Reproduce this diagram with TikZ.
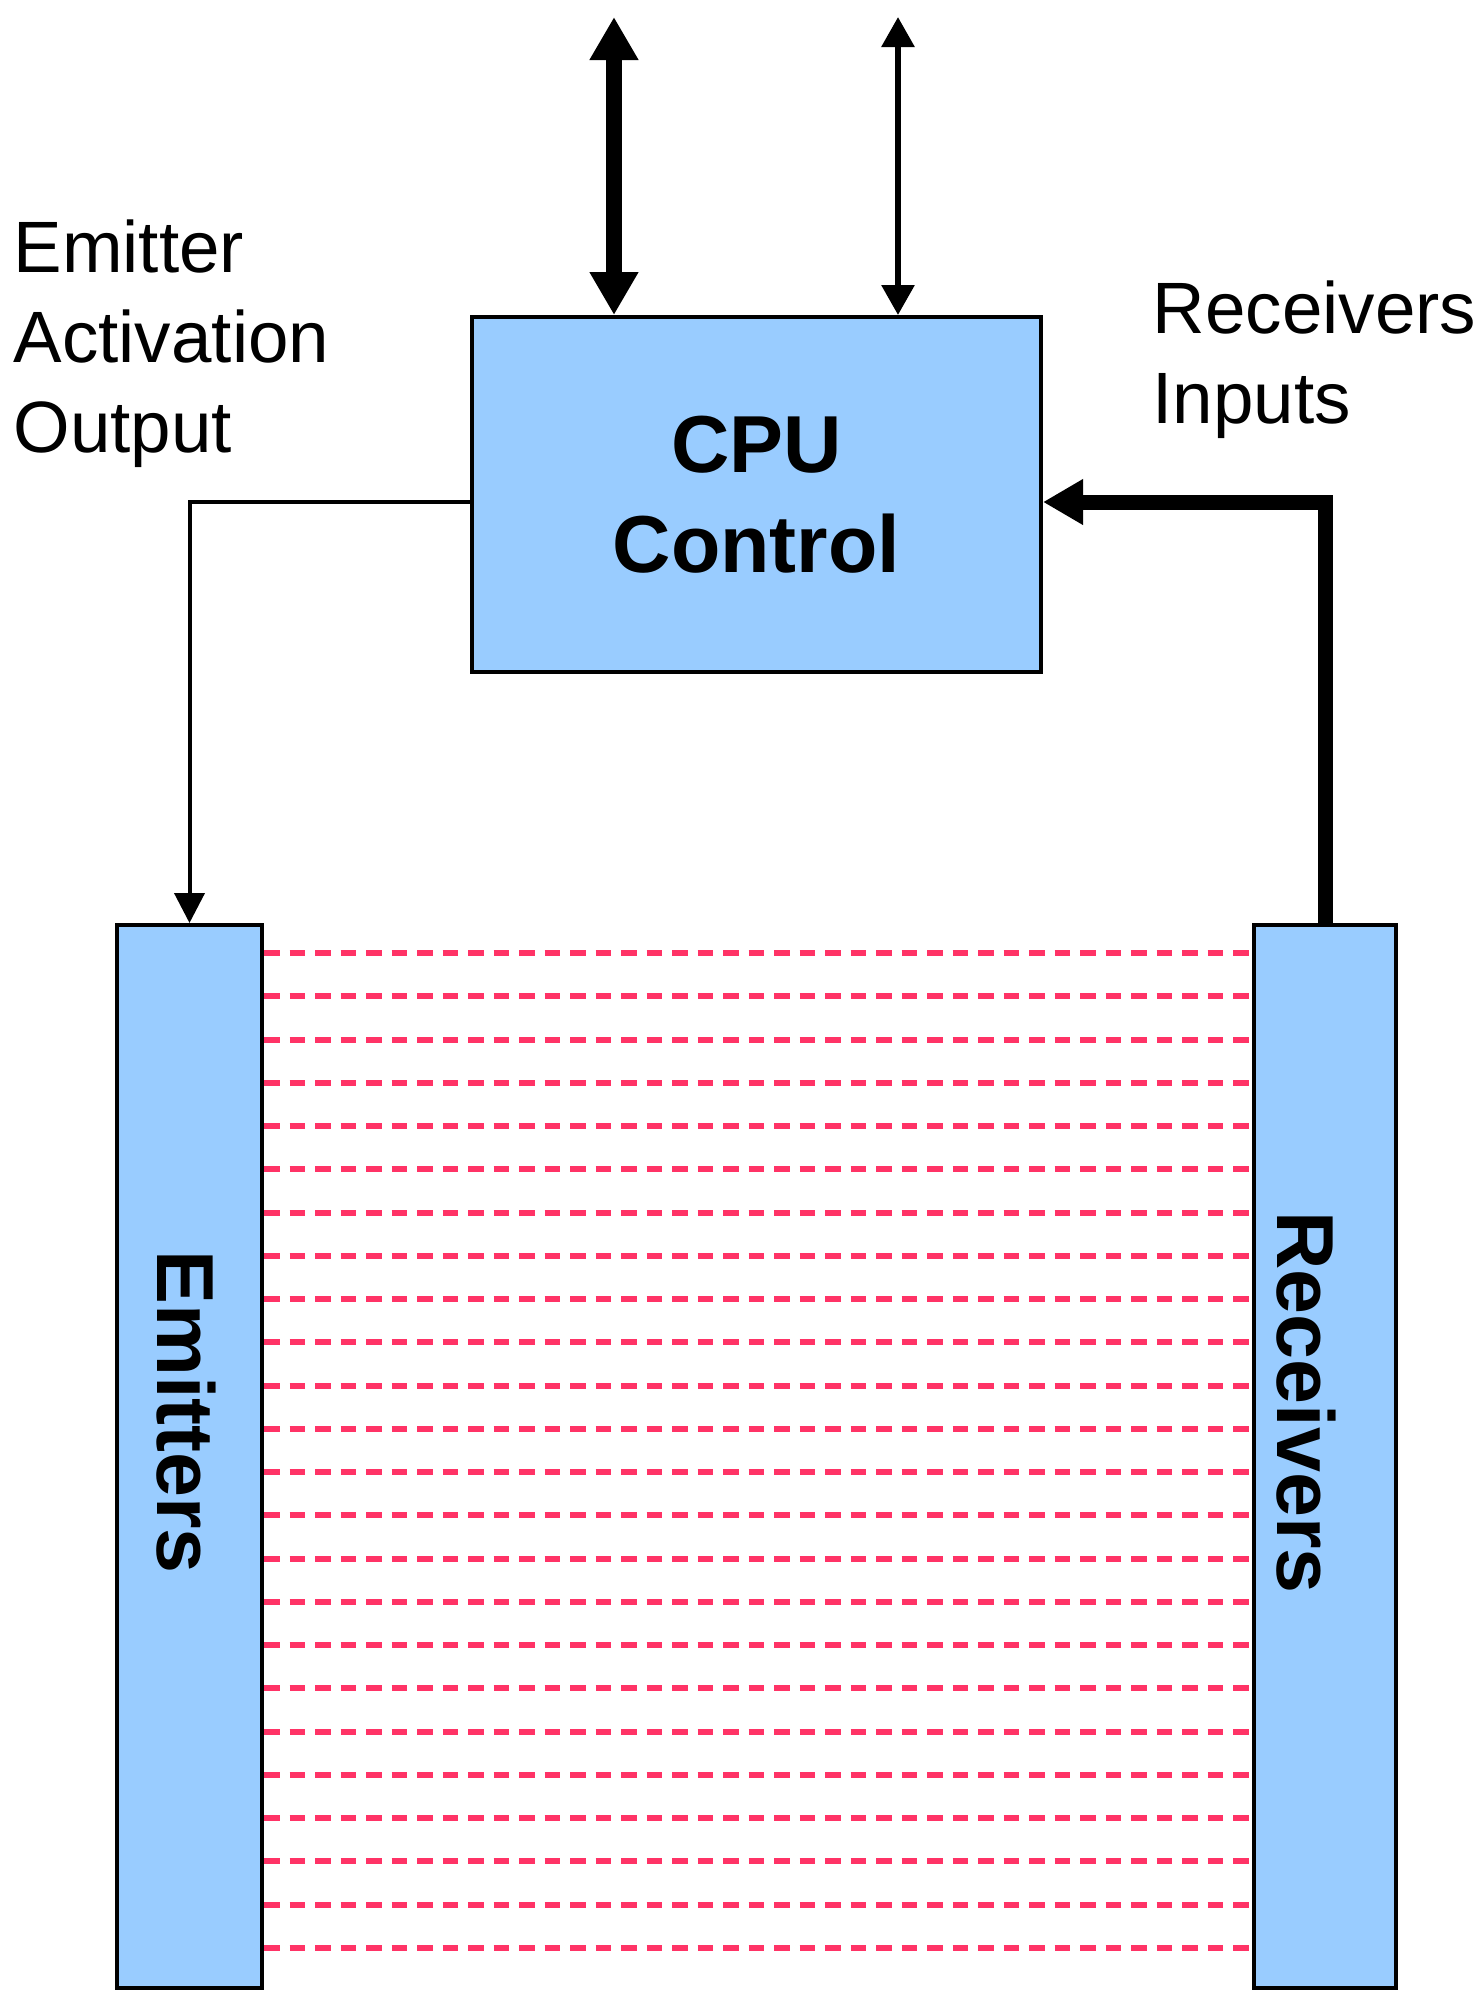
\documentclass[tikz,border=0pt]{standalone}
\usepackage{fontspec}
\setmainfont{Liberation Sans}
\usetikzlibrary{arrows.meta}
\definecolor{panelblue}{RGB}{153,204,255}
\definecolor{beamred}{RGB}{255,51,102}
\begin{document}
\begin{tikzpicture}[
box/.style={draw=black, line width=0.04cm, fill=panelblue, inner sep=0pt, align=center, font=\fontsize{23}{28.5}\selectfont\bfseries},
lbl/.style={inner sep=0pt, align=left, anchor=base west, font=\fontsize{20.7}{25.6}\selectfont},
sidelbl/.style={rotate=-90, font=\fontsize{23}{28.5}\selectfont\bfseries},
bus/.style={{Triangle[width=0.46cm,length=0.43cm]}-{Triangle[width=0.46cm,length=0.43cm]}, line width=0.16cm},
ctl/.style={{Triangle[width=0.32cm,length=0.3cm]}-{Triangle[width=0.32cm,length=0.3cm]}, line width=0.06cm},
actarr/.style={-{Triangle[width=0.3cm,length=0.3cm]}, line width=0.04cm},
inarr/.style={-{Triangle[width=0.43cm,length=0.4cm]}, line width=0.15cm},
ray/.style={draw=beamred, line width=0.06cm, dash pattern=on 0.155cm off 0.1cm}]
\useasboundingbox (0,0) rectangle (14.84,-19.91);
\node[box, minimum width=5.69cm, minimum height=3.55cm] (cpu) at (7.565,-4.945) {CPU\\Control};
\node[box, minimum width=1.45cm, minimum height=10.63cm] (emit) at (1.895,-14.565) {};
\node[box, minimum width=1.42cm, minimum height=10.63cm] (recv) at (13.25,-14.565) {};
\node[sidelbl] (emitlbl) at (1.865,-14.12) {Emitters};
\node[sidelbl] (recvlbl) at (13.065,-14.025) {Receivers};
\node[lbl] (actlbl) at (0.13,-4.52) {Emitter\\Activation\\Output};
\node[lbl] (inlbl) at (11.52,-4.23) {Receivers\\Inputs};
% bus lines on top
\coordinate (busa) at (6.14,-0.17);
\coordinate (busb) at (8.98,-0.17);
\draw[bus] (busa) -- (cpu.north -| busa);
\draw[ctl] (busb) -- (cpu.north -| busb);
% activation and inputs
\draw[actarr] (cpu.west |- 0,-5.02) -| (emit.north);
\draw[inarr] (recv.north) |- (cpu.east |- 0,-5.02);
% beams
\foreach \i [evaluate=\i as \yy using -9.53-0.4326*\i] in {0,...,23}
  \draw[ray] (emit.east |- 0,\yy) -- (recv.west |- 0,\yy);
\end{tikzpicture}
\end{document}
